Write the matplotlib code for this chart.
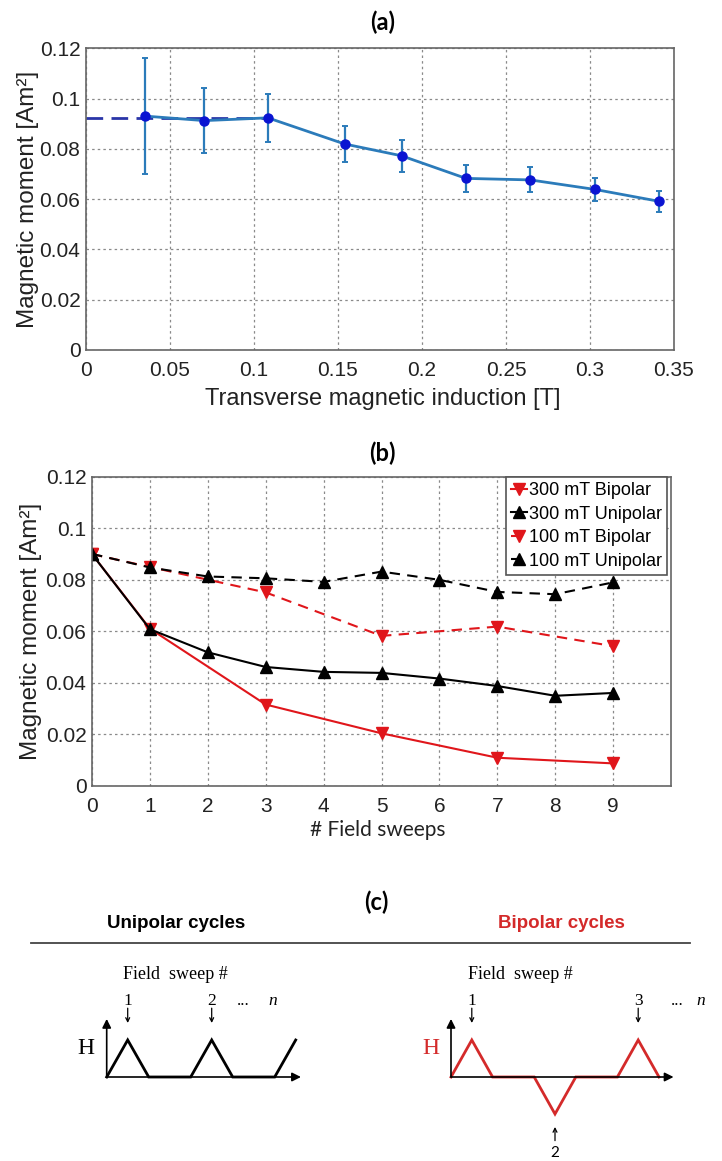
import matplotlib
matplotlib.use("Agg")
import matplotlib.pyplot as plt
from matplotlib.lines import Line2D

W, H = 722, 1161

# --- (a) moment vs transverse induction ---
induction = [0.0351, 0.0704, 0.1083, 0.1539, 0.1878, 0.2262, 0.2644, 0.3030, 0.3409]
moment_a = [0.0931, 0.0913, 0.0924, 0.0820, 0.0773, 0.0683, 0.0677, 0.0639, 0.0592]
moment_a_err = [0.0231, 0.0129, 0.0096, 0.0072, 0.0063, 0.0055, 0.0050, 0.0045, 0.0041]
ref_induction = [0.0, 0.1083]
ref_moment = [0.0925, 0.0925]

# --- (b) moment vs field sweeps ---
sweeps = [0, 1, 2, 3, 4, 5, 6, 7, 8, 9]
sweeps_bip = [0, 1, 3, 5, 7, 9]
bip_300 = [0.0900, 0.0610, 0.0315, 0.0203, 0.0108, 0.0086]
uni_300 = [0.0900, 0.0608, 0.0518, 0.0461, 0.0442, 0.0438, 0.0416, 0.0387, 0.0349, 0.0360]
bip_100 = [0.0900, 0.0850, 0.0751, 0.0582, 0.0618, 0.0542]
uni_100 = [0.0901, 0.0848, 0.0813, 0.0806, 0.0792, 0.0832, 0.0800, 0.0753, 0.0744, 0.0790]

# --- (c) schematic field cycles ---
uni_t = [0, 1, 2, 4, 5, 6, 8, 9]
uni_h = [0, 1, 0, 0, 1, 0, 0, 1]
bip_t = [0, 1, 2, 4, 5, 6, 8, 9, 10]
bip_h = [0, 1, 0, 0, -1, 0, 0, 1, 0]

RED = "#e0161b"
CRED = "#d42a2a"
GRID = dict(color="#8a8a8a", linestyle=(0, (2, 2.5)), linewidth=0.9)

fig = plt.figure(figsize=(W / 100, H / 100), dpi=100)


def px_axes(x0, x1, y0, y1):
    return fig.add_axes([x0 / W, 1 - y1 / H, (x1 - x0) / W, (y1 - y0) / H])


def ftext(x, y, s, **kw):
    fig.text(x / W, 1 - y / H, s, ha="center", va="center", **kw)


def style_axes(ax):
    for sp in ax.spines.values():
        sp.set_color("#666666")
        sp.set_linewidth(1.2)
    ax.tick_params(length=0, labelsize=15, colors="#222222")
    ax.tick_params(axis="x", pad=8)
    ax.tick_params(axis="y", pad=4)
    ax.grid(True, **GRID)
    ax.set_axisbelow(True)
    for lab in ax.get_xticklabels() + ax.get_yticklabels():
        lab.set_family("Liberation Sans")


# panel (a)
ax1 = px_axes(86, 674, 48.5, 350)
ax1.plot(ref_induction, ref_moment, color="#2a35a8", lw=2, dashes=(6, 3), zorder=2)
ax1.errorbar(induction, moment_a, yerr=moment_a_err, color="#2b7bba", lw=2,
             elinewidth=1.6, capsize=2, capthick=1.4, zorder=3,
             marker="o", ms=6.5, mfc="#0a14d2", mec="#0a14d2")
ax1.set_xlim(0, 0.35)
ax1.set_ylim(0, 0.12)
ax1.set_xticks([0, 0.05, 0.1, 0.15, 0.2, 0.25, 0.3, 0.35])
ax1.set_xticklabels(["0", "0.05", "0.1", "0.15", "0.2", "0.25", "0.3", "0.35"])
ax1.set_yticks([0, 0.02, 0.04, 0.06, 0.08, 0.1, 0.12])
ax1.set_yticklabels(["0", "0.02", "0.04", "0.06", "0.08", "0.1", "0.12"])
style_axes(ax1)
ftext(383, 22, "(a)", fontsize=17, fontweight="bold", family="Lato")
ftext(383, 399, "Transverse magnetic induction [T]", fontsize=17, family="Liberation Sans", color="#222222")
ftext(28, 199, "Magnetic moment [Am²]", fontsize=17.5, rotation=90, family="Liberation Sans", color="#222222")

# panel (b)
ax2 = px_axes(92, 671, 477, 785.5)
ax2.plot(sweeps_bip, bip_300, color=RED, lw=1.5, marker="v", ms=8, label="300 mT Bipolar")
ax2.plot(sweeps, uni_300, color="black", lw=1.5, marker="^", ms=8, label="300 mT Unipolar")
ax2.plot(sweeps_bip, bip_100, color=RED, lw=1.5, dashes=(5, 3.5), marker="v", ms=8, label="100 mT Bipolar")
ax2.plot(sweeps, uni_100, color="black", lw=1.5, dashes=(5, 3.5), marker="^", ms=8, label="100 mT Unipolar")
ax2.set_xlim(0, 10)
ax2.set_ylim(0, 0.12)
ax2.set_xticks(sweeps)
ax2.set_yticks([0, 0.02, 0.04, 0.06, 0.08, 0.1, 0.12])
ax2.set_yticklabels(["0", "0.02", "0.04", "0.06", "0.08", "0.1", "0.12"])
style_axes(ax2)
leg = ax2.legend(loc="upper right", bbox_to_anchor=(0.993, 1.0), borderaxespad=0,
                 handlelength=0.9, handletextpad=0.1, borderpad=0.28, labelspacing=0.36,
                 fancybox=False, framealpha=1, edgecolor="#555555",
                 prop={"family": "Liberation Sans", "size": 13})
leg.get_frame().set_linewidth(1.2)
ftext(382, 453, "(b)", fontsize=17, fontweight="bold", family="Lato")
ftext(378, 830, "# Field sweeps", fontsize=15, family="Lato", color="#222222")
ftext(31, 631, "Magnetic moment [Am²]", fontsize=17.5, rotation=90, family="Liberation Sans", color="#222222")

# panel (c) header
ftext(376, 902, "(c)", fontsize=17, fontweight="bold", family="Lato")
ftext(176, 924, "Unipolar cycles", fontsize=13.5, fontweight="bold", family="Liberation Sans")
ftext(561, 924, "Bipolar cycles", fontsize=13.5, fontweight="bold", family="Liberation Sans", color=CRED)
fig.add_artist(Line2D([31 / W, 690 / W], [1 - 943 / H, 1 - 943 / H], color="#444444", lw=1.3))

ARROW_AX = dict(arrowstyle="-|>", color="black", lw=1.2, mutation_scale=13, shrinkA=0, shrinkB=0)
ARROW_S = dict(arrowstyle="->", color="black", lw=0.9, mutation_scale=7, shrinkA=0, shrinkB=0)
SERIF = "Liberation Serif"


def cycle_axes(x0, unit, t, h, color, t_end):
    ax = px_axes(x0, x0 + unit * 10, 1077 - 37 * 1.6, 1077 + 37 * 1.6)
    ax.set_xlim(0, 10)
    ax.set_ylim(-1.6, 1.6)
    ax.axis("off")
    ax.annotate("", xy=(t_end, 0), xytext=(0, 0), arrowprops=ARROW_AX, annotation_clip=False)
    ax.annotate("", xy=(0, 1.57), xytext=(0, 0), arrowprops=ARROW_AX, annotation_clip=False)
    ax.plot(t, h, color=color, lw=2, clip_on=False, solid_joinstyle="miter")
    ax.text(-0.98, 0.78, "H", fontsize=17, family=SERIF, color=color, ha="center", va="center")
    ax.text(0.8, 2.76, "Field  sweep #", fontsize=13, family=SERIF, ha="left", va="center")
    return ax


axu = cycle_axes(106.7, 21.0, uni_t, uni_h, "black", 9.25)
for tt, s in [(1, "1"), (5, "2")]:
    axu.text(tt, 1.95, s, fontsize=12.5, family=SERIF, ha="center", va="baseline")
    axu.annotate("", xy=(tt, 1.46), xytext=(tt, 1.86), arrowprops=ARROW_S, annotation_clip=False)
axu.text(6.5, 1.95, "...", fontsize=12.5, family=SERIF, ha="center", va="baseline")
axu.text(7.9, 1.95, "n", fontsize=12.5, family=SERIF, style="italic", ha="center", va="baseline")

axb = cycle_axes(451, 20.8, bip_t, bip_h, CRED, 10.7)
axb.texts[0].set_color(CRED)
for tt, s in [(1, "1"), (9, "3")]:
    axb.text(tt, 1.95, s, fontsize=12.5, family=SERIF, ha="center", va="baseline")
    axb.annotate("", xy=(tt, 1.46), xytext=(tt, 1.86), arrowprops=ARROW_S, annotation_clip=False)
axb.text(10.9, 1.95, "...", fontsize=12.5, family=SERIF, ha="center", va="baseline")
axb.text(12.0, 1.95, "n", fontsize=12.5, family=SERIF, style="italic", ha="center", va="baseline")
axb.annotate("", xy=(5, -1.35), xytext=(5, -1.72), arrowprops=ARROW_S, annotation_clip=False)
axb.text(5, -2.05, "2", fontsize=11, family="Lato", ha="center", va="center")

fig.savefig("out.png", dpi=100)
